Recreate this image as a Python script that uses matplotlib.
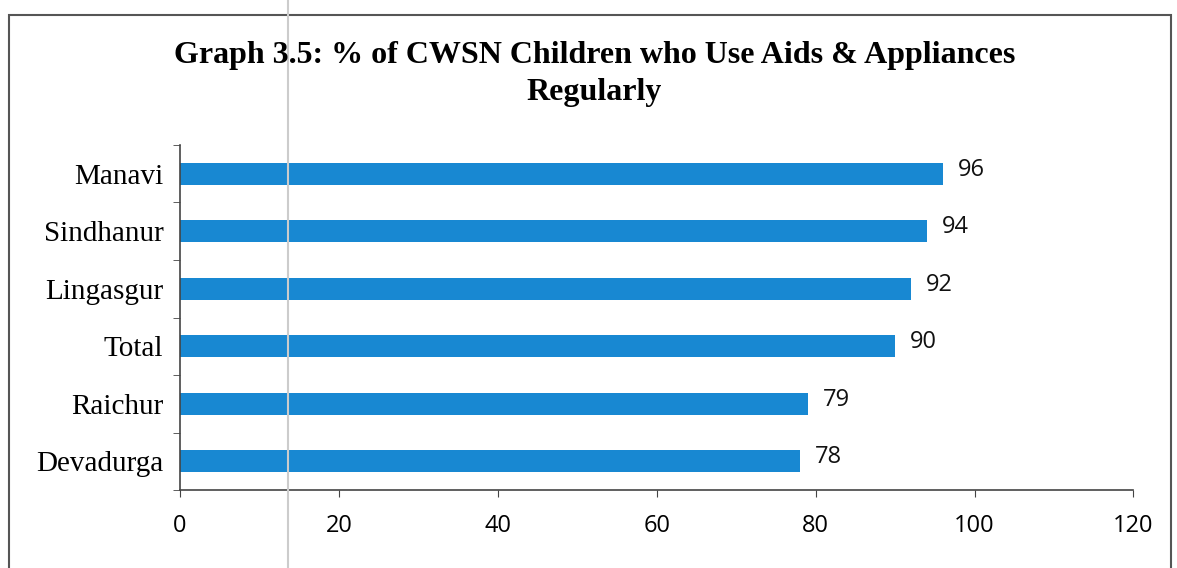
import matplotlib.pyplot as plt
from matplotlib.patches import Rectangle
from matplotlib.lines import Line2D

# % of CWSN children who use aids & appliances regularly
blocks = ["Devadurga", "Raichur", "Total", "Lingasgur", "Sindhanur", "Manavi"]
percent = [78, 79, 90, 92, 94, 96]
x_ticks = [0, 20, 40, 60, 80, 100, 120]

bar_color = "#1888d2"

fig = plt.figure(figsize=(11.77, 5.68), dpi=100)
ax = fig.add_axes([0.153, 0.137, 0.81, 0.608])

pos = list(range(len(blocks)))
ax.barh(pos, percent, height=0.38, color=bar_color)

for p, v in zip(pos, percent):
    ax.text(v + 1.9, p + 0.07, str(v), va="center", ha="left",
            fontsize=17, family="Open Sans", color="#111111")

ax.set_xlim(0, 120)
ax.set_ylim(-0.5, len(blocks) - 0.5)
ax.set_xticks(x_ticks)
ax.set_xticklabels([str(t) for t in x_ticks], family="Open Sans", fontsize=17)
ax.tick_params(axis="x", length=5, pad=12, color="#444444")

# category labels centred, tick marks on boundaries (Excel style)
ax.set_yticks(pos)
ax.set_yticklabels(blocks, family="Liberation Serif", fontsize=21)
ax.tick_params(axis="y", length=0, pad=12)
ax.set_yticks([p - 0.5 for p in pos] + [len(blocks) - 0.5], minor=True)
ax.tick_params(axis="y", which="minor", length=5, color="#444444")

for s in ["top", "right"]:
    ax.spines[s].set_visible(False)
for s in ["left", "bottom"]:
    ax.spines[s].set_color("#444444")
    ax.spines[s].set_linewidth(1.2)

fig.text(0.505, 0.902, "Graph 3.5: % of CWSN Children who Use Aids & Appliances",
         ha="center", va="center", fontsize=23, fontweight="bold",
         family="Liberation Serif")
fig.text(0.505, 0.838, "Regularly", ha="center", va="center", fontsize=23,
         fontweight="bold", family="Liberation Serif")

# outer chart frame of the scanned page
fig.patches.append(Rectangle((0.008, -0.02), 0.987, 0.993, transform=fig.transFigure,
                             fill=False, edgecolor="#555555", linewidth=1.5))
fig.lines.append(Line2D([0.245, 0.245], [0, 1], transform=fig.transFigure,
                        color="#cccccc", linewidth=1.5))

plt.savefig("out.png", dpi=100)
